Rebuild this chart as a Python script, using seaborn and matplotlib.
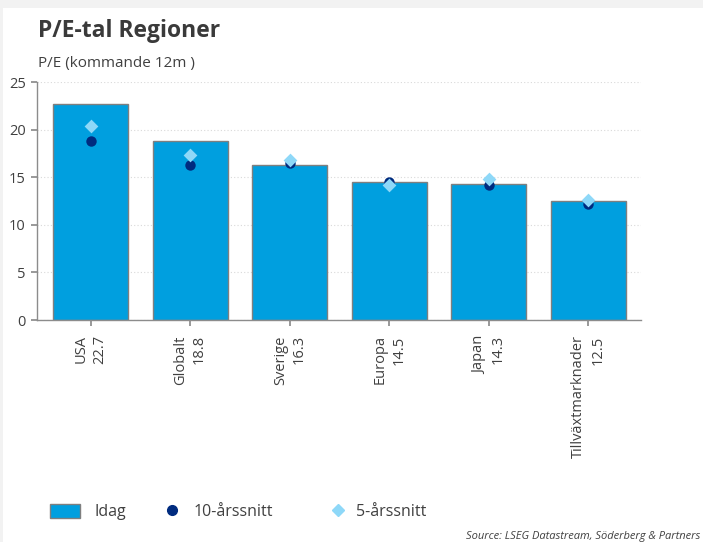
import matplotlib
matplotlib.use("Agg")
import matplotlib.pyplot as plt
import seaborn as sns
import pandas as pd
from matplotlib.patches import Patch, Rectangle
from matplotlib.lines import Line2D

regions = ["USA", "Globalt", "Sverige", "Europa", "Japan", "Tillväxtmarknader"]
idag = [22.7, 18.8, 16.3, 14.5, 14.3, 12.5]
snitt10 = [18.8, 16.3, 16.5, 14.5, 14.2, 12.2]
snitt5 = [20.4, 17.3, 16.8, 14.2, 14.8, 12.6]
yticks = [0, 5, 10, 15, 20, 25]

labels = [f"{r}\n{v:.1f}" for r, v in zip(regions, idag)]
df = pd.DataFrame({"label": labels, "idag": idag, "s10": snitt10, "s5": snitt5})

sns.set_theme(style="white")
plt.rcParams["font.family"] = ["Open Sans", "DejaVu Sans"]

BAR = "#009FDF"
NAVY = "#002B7F"
LIGHT = "#8ED8F8"
TXT = "#404040"

fig = plt.figure(figsize=(7.03, 5.42), dpi=100, facecolor="#F2F2F2")
fig.patches.append(Rectangle((3 / 703, 0), 1, 1 - 8 / 542, transform=fig.transFigure,
                             facecolor="white", edgecolor="none", zorder=-10))
ax = fig.add_axes([37 / 703, 1 - 320 / 542, (641 - 37) / 703, (320 - 82) / 542])
ax.set_zorder(1)
ax.set_facecolor("none")

sns.barplot(data=df, x="label", y="idag", color=BAR, saturation=1, width=0.75,
            edgecolor="#7F7F7F", linewidth=1.0, ax=ax, zorder=2)
sns.stripplot(data=df, x="label", y="s10", color=NAVY, marker="o", size=7.5,
              jitter=False, linewidth=0, ax=ax, zorder=3)
sns.stripplot(data=df, x="label", y="s5", color=LIGHT, marker="D", size=7,
              jitter=False, linewidth=0, ax=ax, zorder=4)

ax.set_ylim(0, 25)
ax.set_xlim(-0.54, 5.53)
ax.set_yticks(yticks)
ax.set_yticklabels([str(t) for t in yticks], fontsize=10.5, color=TXT)
ax.set_xlabel("")
ax.set_ylabel("")
ax.yaxis.grid(True, color="#D9D9D9", linestyle=(0, (1, 2)), linewidth=0.8)
ax.set_axisbelow(True)
for s in ["top", "right"]:
    ax.spines[s].set_visible(False)
for s in ["left", "bottom"]:
    ax.spines[s].set_color("#8C8C8C")
    ax.spines[s].set_linewidth(1.0)
ax.tick_params(axis="y", left=True, length=4, color="#8C8C8C", pad=4)
ax.tick_params(axis="x", bottom=True, length=4, color="#8C8C8C", pad=7)
ax.set_xticks(range(len(labels)))
ax.set_xticklabels(labels, rotation=90, fontsize=10.5, color=TXT,
                   ha="center", va="top", multialignment="right", linespacing=1.35)

fig.text(38 / 703, 1 - 31 / 542, "P/E-tal Regioner", fontsize=16.5, fontweight="bold",
         color="#3A3A3A", va="center", ha="left")
fig.text(38 / 703, 1 - 63 / 542, "P/E (kommande 12m )", fontsize=11, color=TXT,
         va="center", ha="left")

ly = 1 - 512 / 542
common = dict(frameon=False, borderpad=0, borderaxespad=0,
              fontsize=11.5, labelcolor=TXT, loc="center left")
fig.legend(handles=[Patch(facecolor=BAR, edgecolor="#7F7F7F", linewidth=1.0)], labels=["Idag"],
           bbox_to_anchor=(50 / 703, ly), handlelength=1.9, handleheight=0.95,
           handletextpad=0.9, **common)
fig.legend(handles=[Line2D([], [], marker="o", color=NAVY, linestyle="none", markersize=7)],
           labels=["10-årssnitt"], bbox_to_anchor=(164 / 703, ly), handlelength=1.0,
           handletextpad=0.85, **common)
fig.legend(handles=[Line2D([], [], marker="D", color=LIGHT, linestyle="none", markersize=6)],
           labels=["5-årssnitt"], bbox_to_anchor=(330 / 703, ly), handlelength=1.0,
           handletextpad=0.6, **common)

fig.text(700 / 703, 1 - 537 / 542, "Source: LSEG Datastream, Söderberg & Partners",
         fontsize=8, style="italic", color=TXT, ha="right", va="center")

fig.savefig("out.png", dpi=100, facecolor=fig.get_facecolor())
